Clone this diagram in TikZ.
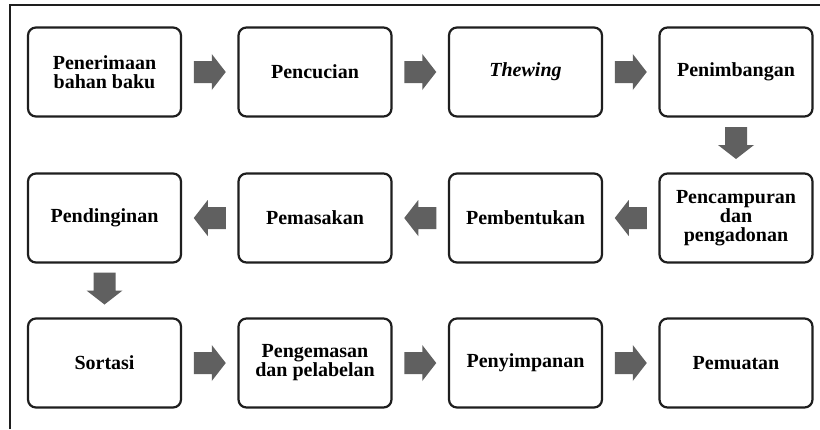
\documentclass[tikz,border=0pt]{standalone}
\usepackage{fontspec}
\setmainfont{Liberation Serif}
\usetikzlibrary{calc}
\definecolor{arrowgray}{RGB}{96,96,96}
\definecolor{boxline}{RGB}{30,30,30}
\newcommand{\blockarrow}[2]{%
  \begin{scope}[shift={(#1)},rotate=#2]
    \fill[arrowgray] (-16,-11) -- (2,-11) -- (2,-18) -- (16,0) -- (2,18) -- (2,11) -- (-16,11) -- cycle;
  \end{scope}}
\begin{document}
\begin{tikzpicture}[x=1pt,y=1pt,
  stepbox/.style={draw=boxline, line width=2.2pt, rounded corners=8pt, fill=white,
    minimum width=153pt, minimum height=89pt, align=center, inner sep=2pt,
    font=\fontsize{20}{19}\selectfont\bfseries}]
\useasboundingbox (0,0) rectangle (820,-429);
\fill[white] (0,0) rectangle (820,-429);
\draw[line width=2pt, boxline] (9.5,-429) -- (9.5,-4.5) -- (820,-4.5);
% row 1
\node[stepbox] (n1) at (104.5,-72) {Penerimaan\\bahan baku};
\node[stepbox] (n2) at (315,-72) {Pencucian};
\node[stepbox] (n3) at (525.5,-72) {\itshape Thewing};
\node[stepbox] (n4) at (736,-72) {Penimbangan};
% row 2
\node[stepbox] (n5) at (736,-218) {Pencampuran\\dan\\pengadonan};
\node[stepbox] (n6) at (525.5,-218) {Pembentukan};
\node[stepbox] (n7) at (315,-218) {Pemasakan};
\node[stepbox] (n8) at (104.5,-218) {Pendinginan};
% row 3
\node[stepbox] (n9) at (104.5,-363) {Sortasi};
\node[stepbox] (n10) at (315,-363) {Pengemasan\\dan pelabelan};
\node[stepbox] (n11) at (525.5,-363) {Penyimpanan};
\node[stepbox] (n12) at (736,-363) {Pemuatan};
% connector midpoints
\coordinate (a1) at ($(n1.east)!0.5!(n2.west)$);
\coordinate (a2) at ($(n2.east)!0.5!(n3.west)$);
\coordinate (a3) at ($(n3.east)!0.5!(n4.west)$);
\coordinate (a4) at ($(n4.south)!0.5!(n5.north)+(0,2)$);
\coordinate (a5) at ($(n5.west)!0.5!(n6.east)$);
\coordinate (a6) at ($(n6.west)!0.5!(n7.east)$);
\coordinate (a7) at ($(n7.west)!0.5!(n8.east)$);
\coordinate (a8) at ($(n8.south)!0.5!(n9.north)+(0,2)$);
\coordinate (a9) at ($(n9.east)!0.5!(n10.west)$);
\coordinate (a10) at ($(n10.east)!0.5!(n11.west)$);
\coordinate (a11) at ($(n11.east)!0.5!(n12.west)$);
\blockarrow{a1}{0}
\blockarrow{a2}{0}
\blockarrow{a3}{0}
\blockarrow{a4}{-90}
\blockarrow{a5}{180}
\blockarrow{a6}{180}
\blockarrow{a7}{180}
\blockarrow{a8}{-90}
\blockarrow{a9}{0}
\blockarrow{a10}{0}
\blockarrow{a11}{0}
\end{tikzpicture}
\end{document}
